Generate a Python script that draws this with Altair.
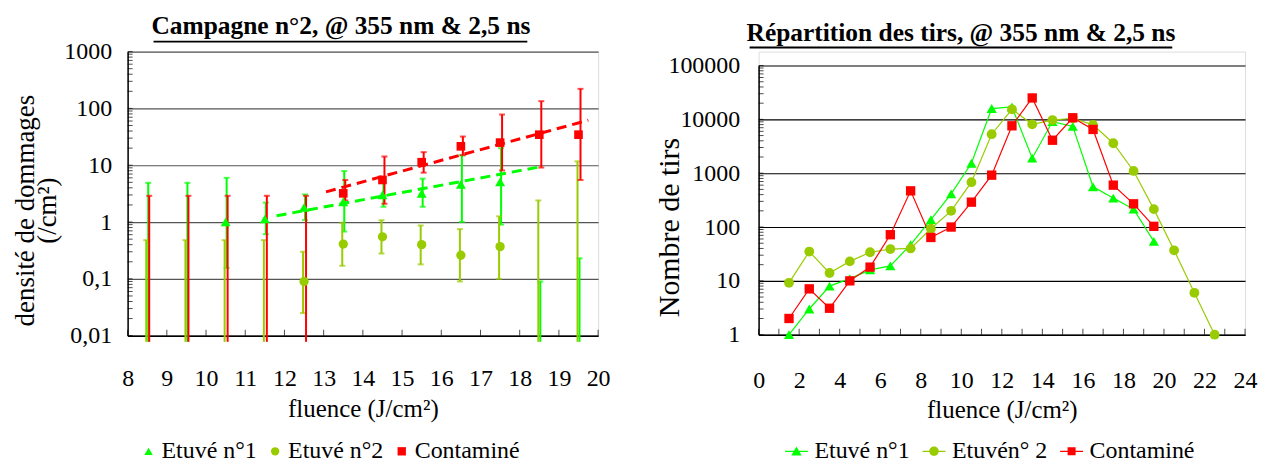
import altair as alt
import pandas as pd

FONT = "Liberation Serif"

SERIES = ["Etuvé n°1", "Etuvé n°2", "Contaminé"]
COLORS = ["#00FF00", "#99CC00", "#FF0000"]
SHAPES = ["triangle-up", "circle", "square"]

# ---------------- left chart data ----------------
fl_left = [8.5, 9.5, 10.5, 11.5, 12.5, 13.5, 14.5, 15.5, 16.5, 17.5, 18.5, 19.5]
e1_val = [None, None, 1.0, 1.13, 1.8, 2.27, 3.0, 3.2, 4.6, 5.1, None, None]
e1_hi = [4.9, 4.9, 6.0, 2.2, 3.06, 7.9, 5.0, 5.8, 15.0, 20.0, 0.09, 0.23]
e1_lo = [None, None, 0.156, 0.61, 1.08, 0.68, 1.86, 1.86, 1.0, 0.9, None, None]
e2_val = [None, None, None, None, 0.09, 0.41, 0.55, 0.40, 0.26, 0.37, None, None]
e2_hi = [0.48, 0.48, 0.48, 0.48, 0.30, 0.97, 1.08, 0.87, 0.75, 1.26, 2.4, 11.7]
e2_lo = [None, None, None, None, 0.025, 0.17, 0.28, 0.18, 0.09, 0.10, None, None]
c_val = [None, None, None, None, None, 3.2, 5.5, 11.3, 21.5, 25.0, 34.5, 34.5]
c_hi = [2.9, 2.9, 2.9, 2.9, 2.9, 5.5, 14.2, 17.0, 32.0, 78.0, 134.0, 221.0]
c_lo = [None, None, None, None, None, 2.4, 2.1, 7.4, 15.0, 8.1, 9.1, 5.5]

trend_e1_x = [11.8, 18.5]
trend_e1_y = [1.29, 9.3]
trend_c_x = [13.06, 19.75]
trend_c_y = [3.4, 62.0]

left_y_ticks = [0.01, 0.1, 1, 10, 100, 1000]
left_x_ticks = [8, 9, 10, 11, 12, 13, 14, 15, 16, 17, 18, 19, 20]
BAR_FLOOR = 0.0078  # open-ended bars run just past the 0,01 axis

# ---------------- right chart data ----------------
fl_right = [1.5, 2.5, 3.5, 4.5, 5.5, 6.5, 7.5, 8.5, 9.5, 10.5, 11.5,
            12.5, 13.5, 14.5, 15.5, 16.5, 17.5, 18.5, 19.5, 20.5, 21.5, 22.5]
r_e1 = [1, 3, 8, 11, 16, 19, 47, 137, 414, 1530, 15900, 17000, 1900, 9100,
        7400, 560, 345, 215, 54]
r_e2 = [9.2, 35, 14, 23, 34, 39, 40, 93, 200, 680, 5300, 15400, 8100, 9700,
        10500, 7900, 3600, 1100, 215, 37, 6, 1]
r_c = [2, 7.1, 3.1, 10, 18, 72, 470, 64, 100, 290, 920, 7600, 25000, 4100,
       10700, 6500, 600, 270, 103]
right_y_ticks = [1, 10, 100, 1000, 10000, 100000]
right_x_labels = [0, 2, 4, 6, 8, 10, 12, 14, 16, 18, 20, 22, 24]
right_x_ticks = list(range(0, 25))

LW, LH = 472, 285
RW, RH = 488, 284      # right plot: log axis occupies the lower 270 px
R_TOP = 14

color_scale = alt.Scale(domain=SERIES, range=COLORS)
shape_scale = alt.Scale(domain=SERIES, range=SHAPES)

common_axis = dict(labelFont=FONT, labelFontSize=24, labelColor="black",
                   titleFont=FONT, titleFontWeight="normal",
                   titleColor="black", domainColor="black", domainWidth=1.5,
                   ticks=False, labelOverlap=False, labelFlush=False)

left_xaxis = alt.Axis(values=left_x_ticks, title="fluence (J/cm²)", grid=False,
                      labelPadding=31, titlePadding=6, titleFontSize=25, **common_axis)
left_yaxis = alt.Axis(values=left_y_ticks, title=["densité de dommages", "(/cm²)"],
                      labelExpr="datum.value < 1 ? replace(toString(datum.value), '.', ',') : toString(datum.value)",
                      grid=True, gridColor="#555555", gridWidth=1.2, titleFontSize=27,
                      titleY=159, labelPadding=16, titlePadding=2, titleLineHeight=22,
                      **common_axis)

lxs = alt.Scale(domain=[8, 20], nice=False, zero=False)
lys = alt.Scale(type="log", domain=[0.01, 1000], nice=False)


def LX(f="x"):
    return alt.X(f"{f}:Q", scale=lxs, axis=left_xaxis)


def LY(f="y"):
    return alt.Y(f"{f}:Q", scale=lys, axis=left_yaxis)


layers_left = []
for s, his, los, off in [(SERIES[0], e1_hi, e1_lo, 1),
                         (SERIES[1], e2_hi, e2_lo, -1),
                         (SERIES[2], c_hi, c_lo, 2)]:
    col = COLORS[SERIES.index(s)]
    bars = pd.DataFrame({"x": fl_left, "hi": his,
                         "lo": [l if l is not None else BAR_FLOOR for l in los]})
    layers_left.append(alt.Chart(bars).mark_rule(color=col, strokeWidth=2, xOffset=off)
                       .encode(x=LX(), y=LY("lo"), y2="hi:Q"))
    caps_hi = pd.DataFrame({"x": fl_left, "y": his})
    layers_left.append(alt.Chart(caps_hi).mark_tick(color=col, orient="horizontal", size=6,
                                                    thickness=2, xOffset=off)
                       .encode(x=LX(), y=LY()))
    caps_lo = pd.DataFrame({"x": [x for x, l in zip(fl_left, los) if l is not None],
                            "y": [l for l in los if l is not None]})
    layers_left.append(alt.Chart(caps_lo).mark_tick(color=col, orient="horizontal", size=6,
                                                    thickness=2, xOffset=off)
                       .encode(x=LX(), y=LY()))

for tx, ty, col in [(trend_e1_x, trend_e1_y, COLORS[0]), (trend_c_x, trend_c_y, COLORS[2])]:
    layers_left.append(alt.Chart(pd.DataFrame({"x": tx, "y": ty}))
                       .mark_line(strokeDash=[10, 6], strokeWidth=3, color=col)
                       .encode(x=LX(), y=LY()))

pts = []
for s, vals in zip(SERIES, [e1_val, e2_val, c_val]):
    for x, v in zip(fl_left, vals):
        if v is not None:
            pts.append({"x": x, "y": v, "series": s})
pts_df = pd.DataFrame(pts)
layers_left.append(alt.Chart(pts_df).mark_point(filled=True, opacity=1)
                   .encode(x=LX(), y=LY(),
                           size=alt.Size("series:N", scale=alt.Scale(domain=SERIES, range=[100, 75, 70]),
                                         legend=None),
                           color=alt.Color("series:N", scale=color_scale, legend=None),
                           shape=alt.Shape("series:N", scale=shape_scale, legend=None)))

left_legend = alt.Legend(title=None, orient="none", legendX=9, legendY=389,
                         direction="horizontal", labelFont=FONT, labelFontSize=24,
                         labelColor="black", symbolSize=70, symbolStrokeWidth=0,
                         labelOffset=1, columnPadding=6)
layers_left.append(alt.Chart(pd.DataFrame({"series": SERIES, "x": [8, 8, 8], "y": [1, 1, 1]}))
                   .transform_filter("false").mark_point(filled=True, size=70, opacity=1)
                   .encode(x=LX(), y=LY(),
                           color=alt.Color("series:N", scale=color_scale, legend=left_legend),
                           shape=alt.Shape("series:N", scale=shape_scale, legend=left_legend)))

# inner ticks
lyt = pd.DataFrame({"y": [m * 10 ** k for k in range(-2, 3) for m in range(1, 10)] + [1000]})
layers_left.append(alt.Chart(lyt).mark_tick(color="black", orient="horizontal", size=5, thickness=1)
                   .encode(y=LY(), x=alt.value(2.5)))
lxt = pd.DataFrame({"x": left_x_ticks})
layers_left.append(alt.Chart(lxt).mark_tick(color="black", orient="vertical", size=6, thickness=1)
                   .encode(x=LX(), y=alt.value(LH - 3)))
# title underline
layers_left.append(alt.Chart(pd.DataFrame({"a": [0]})).mark_rule(color="black", strokeWidth=2)
                   .encode(x=alt.value(26), x2=alt.value(401), y=alt.value(-10)))

left = alt.layer(*layers_left).resolve_scale(
    color="independent", shape="independent", size="independent").properties(
    width=LW, height=LH,
    title=alt.Title("Campagne n°2,  @ 355 nm & 2,5 ns", font=FONT, fontSize=25.5,
                    fontWeight="bold", color="black", offset=0, anchor="middle", dx=-22))

# ---------------- right chart ----------------
right_xaxis = alt.Axis(values=right_x_labels, title="fluence (J/cm²)", grid=False,
                       labelPadding=34, titlePadding=5, titleFontSize=25, **common_axis)
right_yaxis = alt.Axis(values=right_y_ticks, title="Nombre de tirs",
                       labelExpr="toString(datum.value)",
                       grid=True, gridColor="black", gridWidth=1.1, titleFontSize=30,
                       titleX=-89, titleY=176, titleBaseline="middle",
                       labelPadding=19, titlePadding=4, **common_axis)
rxs = alt.Scale(domain=[0, 24], nice=False, zero=False)
rys = alt.Scale(type="log", domain=[1, 100000], nice=False, range=[RH, R_TOP])


def RX(f="x"):
    return alt.X(f"{f}:Q", scale=rxs, axis=right_xaxis)


def RY(f="y"):
    return alt.Y(f"{f}:Q", scale=rys, axis=right_yaxis)


rows = []
for s, vals in zip(SERIES, [r_e1, r_e2, r_c]):
    for x, v in zip(fl_right, vals):
        rows.append({"x": x, "y": v, "series": s})
rdf = pd.DataFrame(rows)

r_lines = alt.Chart(rdf).mark_line(strokeWidth=1.2).encode(
    x=RX(), y=RY(), detail="series:N",
    color=alt.Color("series:N", scale=color_scale, legend=None))
r_points = alt.Chart(rdf).mark_point(filled=True, opacity=1).encode(
    x=RX(), y=RY(),
    size=alt.Size("series:N", scale=alt.Scale(domain=SERIES, range=[105, 88, 70]), legend=None),
    color=alt.Color("series:N", scale=color_scale, legend=None),
    shape=alt.Shape("series:N", scale=shape_scale, legend=None))

LINE = "M-1,-0.05H1V0.05H-1Z"
legend_paths = [LINE + "M0,-0.42L0.45,0.36H-0.45Z",
                LINE + "M0.41,0A0.41,0.41 0 1,1 -0.41,0A0.41,0.41 0 1,1 0.41,0Z",
                LINE + "M-0.35,-0.35H0.35V0.35H-0.35Z"]
right_legend_labels = ["Etuvé n°1", "Etuvén° 2", "Contaminé"]
right_legend = alt.Legend(title=None, orient="none", legendX=26, legendY=389,
                          direction="horizontal", labelFont=FONT, labelFontSize=24,
                          labelColor="black", symbolSize=529, symbolStrokeWidth=0,
                          labelOffset=6, columnPadding=12)
r_leg = alt.Chart(pd.DataFrame({"series": right_legend_labels, "x": [0, 0, 0], "y": [1, 1, 1]})) \
    .transform_filter("false").mark_point(filled=True, size=529, opacity=1).encode(
    x=RX(), y=RY(),
    color=alt.Color("series:N", scale=alt.Scale(domain=right_legend_labels, range=COLORS), legend=right_legend),
    shape=alt.Shape("series:N", scale=alt.Scale(domain=right_legend_labels, range=legend_paths), legend=right_legend))

ryt = pd.DataFrame({"y": [m * 10 ** k for k in range(0, 5) for m in range(1, 10)] + [100000]})
r_yt = alt.Chart(ryt).mark_tick(color="black", orient="horizontal", size=5, thickness=1) \
    .encode(y=RY(), x=alt.value(2.5))
rxt = pd.DataFrame({"x": right_x_ticks})
r_xt = alt.Chart(rxt).mark_tick(color="black", orient="vertical", size=6, thickness=1) \
    .encode(x=RX(), y=alt.value(RH - 3))
r_ul = alt.Chart(pd.DataFrame({"a": [0]})).mark_rule(color="black", strokeWidth=2) \
    .encode(x=alt.value(-9), x2=alt.value(415), y=alt.value(-4))

right = alt.layer(r_lines, r_points, r_leg, r_yt, r_xt, r_ul).resolve_scale(
    color="independent", shape="independent", size="independent").properties(
    width=RW, height=RH,
    title=alt.Title("Répartition des tirs,  @ 355 nm & 2,5 ns", font=FONT, fontSize=25.5,
                    fontWeight="bold", color="black", offset=0, anchor="middle", dx=-41))

chart = alt.hconcat(left, right, spacing=43).configure_view(stroke=None).configure(
    background="white").properties(padding={"left": 3, "top": 5, "right": 0, "bottom": 0})

chart.save("out.html", embed_options={"renderer": "svg", "actions": False})
